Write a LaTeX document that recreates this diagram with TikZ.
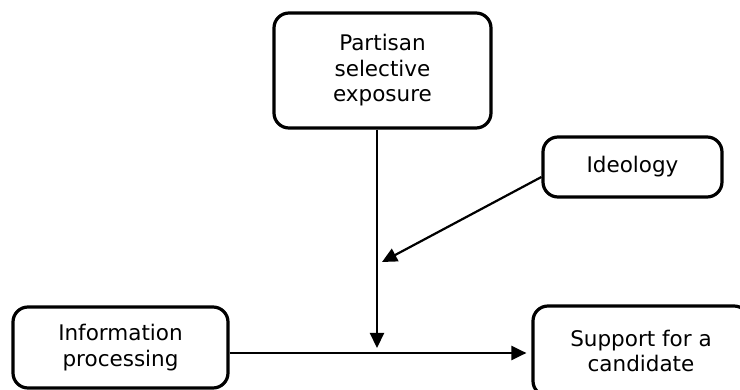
\documentclass[tikz,border=0pt]{standalone}
\usepackage{fontspec}
\setmainfont{DejaVu Sans}
\usetikzlibrary{arrows.meta}
\begin{document}
\begin{tikzpicture}[x=1pt,y=-1pt,
  box/.style={draw=black, line width=3.2pt, rounded corners=15pt, fill=white,
    align=center, inner sep=0pt, font=\fontsize{21.5}{25.5}\selectfont},
  conn/.style={draw=black, line width=2.2pt, -{Triangle[length=15pt,width=14pt]}}]
\useasboundingbox (0,0) rectangle (740,390);
\clip (0,0) rectangle (740,390);
\fill[white] (0,0) rectangle (740,390);
\node[box, minimum width=217pt, minimum height=115pt] (partisan) at (382.5,70.5) {Partisan\\selective\\exposure};
\node[box, minimum width=179pt, minimum height=60pt] (ideology) at (632.5,167) {Ideology};
\node[box, minimum width=215pt, minimum height=81pt] (info) at (120.5,347.5) {Information\\processing};
\node[box, minimum width=216pt, minimum height=90pt] (support) at (641,351) {Support for a\\candidate};
\coordinate (vtip) at (377,348);
\coordinate (itip) at (382,262);
\coordinate (hline) at (0,353);
\draw[conn] (partisan.south -| vtip) -- (vtip);
\draw[conn] ([yshift=-10pt]ideology.west) -- (itip);
\draw[conn, shorten >=5pt] (info.east |- hline) -- (support.west |- hline);
\end{tikzpicture}
\end{document}
